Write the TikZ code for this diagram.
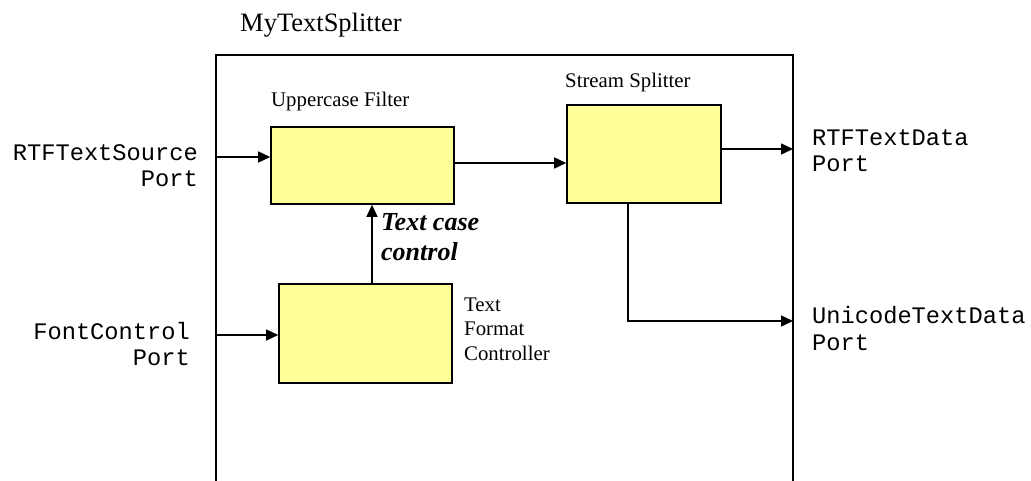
\documentclass[tikz,border=0pt]{standalone}
\usepackage{fontspec}
\setmainfont{Liberation Serif}
\setmonofont{Liberation Mono}
\usetikzlibrary{arrows.meta}
\definecolor{boxyellow}{RGB}{255,255,153}
\tikzset{
  blk/.style={draw=black, fill=boxyellow, line width=1.6pt, inner sep=0pt, minimum width=#1},
  frame/.style={draw=black, line width=1.6pt},
  arr/.style={draw=black, line width=1.5pt, -{Triangle[length=12pt,width=11pt]}},
  lbl/.style={inner sep=0pt, anchor=base west, font=\fontsize{20.8}{24.5}\selectfont, align=left},
  ttl/.style={inner sep=0pt, anchor=base west, font=\fontsize{26.5}{30}\selectfont},
  ctl/.style={inner sep=0pt, anchor=base west, font=\fontsize{26}{30}\selectfont\bfseries\itshape, align=left},
  portL/.style={inner sep=0pt, anchor=base east, font=\fontsize{23.7}{26}\selectfont\ttfamily, align=right},
  portR/.style={inner sep=0pt, anchor=base west, font=\fontsize{23.7}{26.5}\selectfont\ttfamily, align=left},
}
\begin{document}
\begin{tikzpicture}[x=1pt,y=-1pt]
\useasboundingbox (0,0) rectangle (1031,481);
% frame (open at the bottom)
\coordinate (fbl) at (216,481);
\coordinate (ftl) at (216,55);
\coordinate (ftr) at (793,55);
\coordinate (fbr) at (793,481);
\draw[frame] (fbl) -- (ftl) -- (ftr) -- (fbr);
\node[ttl] (title) at (240,32) {MyTextSplitter};
% blocks
\node[blk=183pt, minimum height=77pt] (uf) at (362.5,165.5) {};
\node[blk=154pt, minimum height=98pt] (ss) at (644,154) {};
\node[blk=173pt, minimum height=99pt] (tfc) at (365.5,333.5) {};
% block labels (base anchor = last line)
\node[lbl] (ufl) at (271,107) {Uppercase Filter};
\node[lbl] (ssl) at (565,88) {Stream Splitter};
\node[lbl] (tfcl) at (464,360) {Text\\Format\\Controller};
\node[ctl] (tcc) at (381,261) {Text case\\control};
% port labels
\node[portL] (p1) at (198,187) {RTFTextSource\\Port};
\node[portL] (p2) at (190,365) {FontControl\\Port};
\node[portR] (p3) at (812,172) {RTFTextData\\Port};
\node[portR] (p4) at (812,350) {UnicodeTextData\\Port};
% connection points on the frame
\coordinate (inA) at (216,157);
\coordinate (inB) at (216,335);
\coordinate (outA) at (793,149);
\coordinate (outB) at (793,321);
\coordinate (mid) at (0,163);
\coordinate (dn) at (628,0);
\coordinate (up) at (372,0);
% connectors
\draw[arr] (inA) -- (uf.west |- inA);
\draw[arr] (uf.east |- mid) -- (ss.west |- mid);
\draw[arr] (ss.east |- outA) -- (outA);
\draw[arr] (ss.south -| dn) |- (outB);
\draw[arr] (inB) -- (tfc.west |- inB);
\draw[arr] (tfc.north -| up) -- (uf.south -| up);
\end{tikzpicture}
\end{document}
